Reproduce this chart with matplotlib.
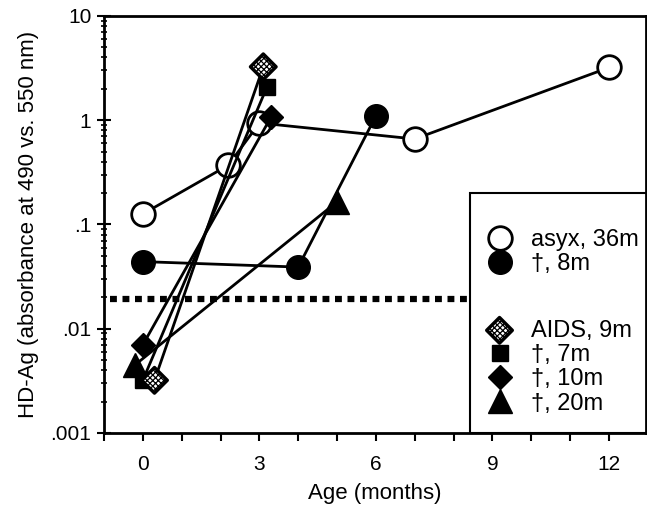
import numpy as np
import matplotlib
matplotlib.use("Agg")
import matplotlib.pyplot as plt
from matplotlib.lines import Line2D
from matplotlib.patches import Rectangle
from matplotlib.ticker import MultipleLocator, LogLocator, NullFormatter

plt.rcParams['font.family'] = ['Liberation Sans', 'DejaVu Sans']
plt.rcParams['hatch.linewidth'] = 0.9

# age (months) vs HD-Ag absorbance, one series per patient
asyx_x = [0, 2.2, 3.0, 7, 12]
asyx_y = [0.126, 0.37, 0.94, 0.66, 3.2]
d8_x = [0, 4, 6]
d8_y = [0.044, 0.039, 1.1]
aids_x = [0.3, 3.1]
aids_y = [0.0032, 3.25]
d7_x = [0, 3.2]
d7_y = [0.0032, 2.1]
d10_x = [0, 3.3]
d10_y = [0.0070, 1.07]
d20_x = [-0.2, 5]
d20_y = [0.0045, 0.165]

# cut-off line
cutoff_x = [-0.85, 8.4]
cutoff_y = [0.0194, 0.0194]

labels = ['asyx, 36m', '\u2020, 8m', 'AIDS, 9m', '\u2020, 7m', '\u2020, 10m', '\u2020, 20m']
xticks = [0, 3, 6, 9, 12]
yticks = [0.001, 0.01, 0.1, 1, 10]
yticklabels = ['.001', '.01', '.1', '1', '10']

fig = plt.figure(figsize=(6.47, 5.13), dpi=100)
ax = fig.add_axes([0.1607, 0.156, 0.8377, 0.813])

lw = 2.0
ax.plot(asyx_x, asyx_y, '-o', color='k', lw=lw, ms=17, mfc='white', mew=2, zorder=3)
ax.plot(d8_x, d8_y, '-o', color='k', lw=lw, ms=17, zorder=3)
ax.plot(d20_x, d20_y, '-^', color='k', lw=lw, ms=17, zorder=3)
ax.plot(d10_x, d10_y, '-D', color='k', lw=lw, ms=12, zorder=3)
ax.plot(d7_x, d7_y, '-s', color='k', lw=lw, ms=12, zorder=3)
ax.plot(aids_x, aids_y, '-', color='k', lw=lw, zorder=3)
h_aids = ax.scatter(aids_x, aids_y, s=13**2, marker='D', facecolor='white',
                    edgecolor='k', hatch='xxxxxx', linewidth=2.5, zorder=4)

ax.plot(cutoff_x, cutoff_y, color='k', lw=4.5, dashes=(1.1, 0.9),
        dash_capstyle='butt', zorder=2)

ax.set_yscale('log')
ax.set_ylim(0.001, 10)
ax.set_xlim(-1, 12.95)
ax.set_yticks(yticks)
ax.set_yticklabels(yticklabels)
ax.yaxis.set_minor_locator(LogLocator(base=10, subs=np.arange(2, 10)))
ax.yaxis.set_minor_formatter(NullFormatter())
ax.set_xticks(xticks)
ax.xaxis.set_minor_locator(MultipleLocator(1))

ax.tick_params(axis='x', which='both', direction='out', length=6, width=1.5,
               labelsize=15, pad=10)
ax.tick_params(axis='y', which='major', direction='inout', length=10, width=1.5,
               labelsize=15, pad=4)
ax.tick_params(axis='y', which='minor', direction='inout', length=5, width=1.2)
for s in ax.spines.values():
    s.set_linewidth(2)

ax.set_xlabel('Age (months)', fontsize=16, labelpad=6)
ax.set_ylabel('HD-Ag (absorbance at 490 vs. 550 nm)', fontsize=16, labelpad=8)

# legend box
ax.add_patch(Rectangle((0.675, 0), 0.4, 0.576, transform=ax.transAxes,
                       fill=False, lw=1.5, clip_on=False, zorder=5))

hnd1 = [Line2D([], [], ls='none', marker='o', ms=17, mfc='white', mec='k', mew=2),
        Line2D([], [], ls='none', marker='o', ms=17, color='k')]
hnd2 = [h_aids,
        Line2D([], [], ls='none', marker='s', ms=12, color='k'),
        Line2D([], [], ls='none', marker='D', ms=12, color='k'),
        Line2D([], [], ls='none', marker='^', ms=17, color='k')]
leg1 = ax.legend(hnd1, labels[:2], loc='upper left', bbox_to_anchor=(0.708, 0.489),
                 frameon=False, fontsize=17, handlelength=1.0, handletextpad=0.85,
                 labelspacing=0.1, borderaxespad=0, borderpad=0)
ax.add_artist(leg1)
ax.legend(hnd2, labels[2:], loc='upper left', bbox_to_anchor=(0.708, 0.272),
          frameon=False, fontsize=17, handlelength=1.0, handletextpad=0.85,
          labelspacing=0.1, borderaxespad=0, borderpad=0, scatterpoints=1)

fig.savefig('out.png', dpi=100)
